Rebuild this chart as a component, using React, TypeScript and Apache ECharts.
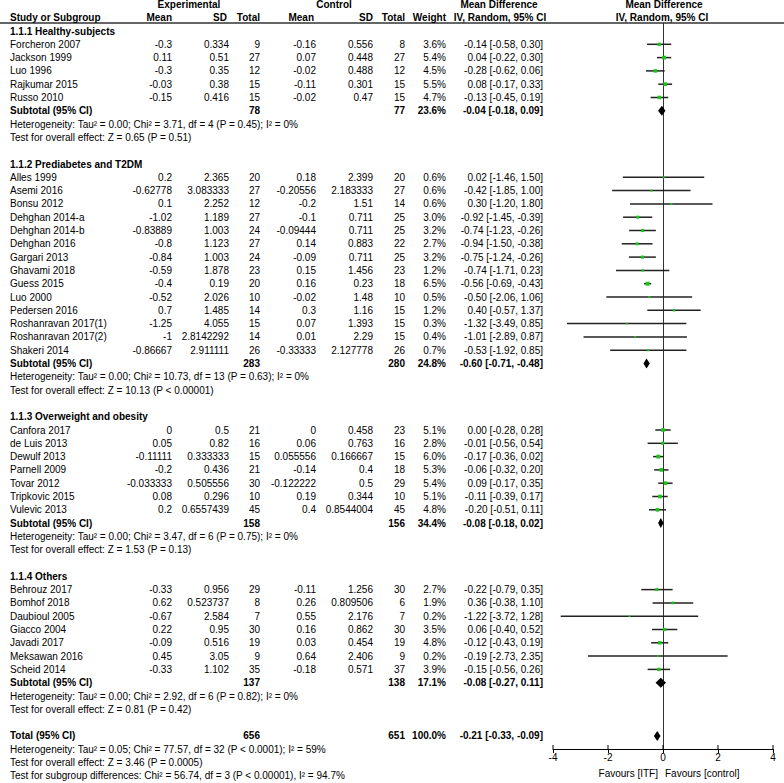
import React, { useEffect, useRef } from "react";
import * as echarts from "echarts";

// ---------------- data ----------------
const subgroupTitles = [
  "1.1.1 Healthy-subjects",
  "1.1.2 Prediabetes and T2DM",
  "1.1.3 Overweight and obesity",
  "1.1.4 Others",
];
const subgroupSizes = [5, 14, 7, 7];

const studyNames = [
  "Forcheron 2007", "Jackson 1999", "Luo 1996", "Rajkumar 2015", "Russo 2010",
  "Alles 1999", "Asemi 2016", "Bonsu 2012", "Dehghan 2014-a", "Dehghan 2014-b", "Dehghan 2016",
  "Gargari 2013", "Ghavami 2018", "Guess 2015", "Luo 2000", "Pedersen 2016",
  "Roshanravan 2017(1)", "Roshanravan 2017(2)", "Shakeri 2014",
  "Canfora 2017", "de Luis 2013", "Dewulf 2013", "Parnell 2009", "Tovar 2012", "Tripkovic 2015", "Vulevic 2013",
  "Behrouz 2017", "Bomhof 2018", "Daubioul 2005", "Giacco 2004", "Javadi 2017", "Meksawan 2016", "Scheid 2014",
];
const expMean = [
  -0.3, 0.11, -0.3, -0.03, -0.15,
  0.2, -0.62778, 0.1, -1.02, -0.83889, -0.8, -0.84, -0.59, -0.4, -0.52, 0.7, -1.25, -1, -0.86667,
  0, 0.05, -0.11111, -0.2, -0.033333, 0.08, 0.2,
  -0.33, 0.62, -0.67, 0.22, -0.09, 0.45, -0.33,
];
const expSD = [
  0.334, 0.51, 0.35, 0.38, 0.416,
  2.365, 3.083333, 2.252, 1.189, 1.003, 1.123, 1.003, 1.878, 0.19, 2.026, 1.485, 4.055, 2.8142292, 2.911111,
  0.5, 0.82, 0.333333, 0.436, 0.505556, 0.296, 0.6557439,
  0.956, 0.523737, 2.584, 0.95, 0.516, 3.05, 1.102,
];
const expTotal = [
  9, 27, 12, 15, 15,
  20, 27, 12, 27, 24, 27, 24, 23, 20, 10, 14, 15, 14, 26,
  21, 16, 15, 21, 30, 10, 45,
  29, 8, 7, 30, 19, 9, 35,
];
const ctlMean = [
  -0.16, 0.07, -0.02, -0.11, -0.02,
  0.18, -0.20556, -0.2, -0.1, -0.09444, 0.14, -0.09, 0.15, 0.16, -0.02, 0.3, 0.07, 0.01, -0.33333,
  0, 0.06, 0.055556, -0.14, -0.122222, 0.19, 0.4,
  -0.11, 0.26, 0.55, 0.16, 0.03, 0.64, -0.18,
];
const ctlSD = [
  0.556, 0.448, 0.488, 0.301, 0.47,
  2.399, 2.183333, 1.51, 0.711, 0.711, 0.883, 0.711, 1.456, 0.23, 1.48, 1.16, 1.393, 2.29, 2.127778,
  0.458, 0.763, 0.166667, 0.4, 0.5, 0.344, 0.8544004,
  1.256, 0.809506, 2.176, 0.862, 0.454, 2.406, 0.571,
];
const ctlTotal = [
  8, 27, 12, 15, 15,
  20, 27, 14, 25, 25, 22, 25, 23, 18, 10, 15, 15, 15, 26,
  23, 16, 15, 18, 29, 10, 45,
  30, 6, 7, 30, 19, 9, 37,
];
const weights = [
  3.6, 5.4, 4.5, 5.5, 4.7,
  0.6, 0.6, 0.6, 3.0, 3.2, 2.7, 3.2, 1.2, 6.5, 0.5, 1.2, 0.3, 0.4, 0.7,
  5.1, 2.8, 6.0, 5.3, 5.4, 5.1, 4.8,
  2.7, 1.9, 0.2, 3.5, 4.8, 0.2, 3.9,
];
const meanDiff = [
  -0.14, 0.04, -0.28, 0.08, -0.13,
  0.02, -0.42, 0.3, -0.92, -0.74, -0.94, -0.75, -0.74, -0.56, -0.5, 0.4, -1.32, -1.01, -0.53,
  0.0, -0.01, -0.17, -0.06, 0.09, -0.11, -0.2,
  -0.22, 0.36, -1.22, 0.06, -0.12, -0.19, -0.15,
];
const ciLow = [
  -0.58, -0.22, -0.62, -0.17, -0.45,
  -1.46, -1.85, -1.2, -1.45, -1.23, -1.5, -1.24, -1.71, -0.69, -2.06, -0.57, -3.49, -2.89, -1.92,
  -0.28, -0.56, -0.36, -0.32, -0.17, -0.39, -0.51,
  -0.79, -0.38, -3.72, -0.4, -0.43, -2.73, -0.56,
];
const ciHigh = [
  0.3, 0.3, 0.06, 0.33, 0.19,
  1.5, 1.0, 1.8, -0.39, -0.26, -0.38, -0.26, 0.23, -0.43, 1.06, 1.37, 0.85, 0.87, 0.85,
  0.28, 0.54, 0.02, 0.2, 0.35, 0.17, 0.11,
  0.35, 1.1, 1.28, 0.52, 0.19, 2.35, 0.26,
];

const subExpTotal = [78, 283, 158, 137];
const subCtlTotal = [77, 280, 156, 138];
const subWeight = [23.6, 24.8, 34.4, 17.1];
const subMeanDiff = [-0.04, -0.6, -0.08, -0.08];
const subLow = [-0.18, -0.71, -0.18, -0.27];
const subHigh = [0.09, -0.48, 0.02, 0.11];
const subHeterogeneity = [
  "Heterogeneity: Tau² = 0.00; Chi² = 3.71, df = 4 (P = 0.45); I² = 0%",
  "Heterogeneity: Tau² = 0.00; Chi² = 10.73, df = 13 (P = 0.63); I² = 0%",
  "Heterogeneity: Tau² = 0.00; Chi² = 3.47, df = 6 (P = 0.75); I² = 0%",
  "Heterogeneity: Tau² = 0.00; Chi² = 2.92, df = 6 (P = 0.82); I² = 0%",
];
const subOverallTest = [
  "Test for overall effect: Z = 0.65 (P = 0.51)",
  "Test for overall effect: Z = 10.13 (P < 0.00001)",
  "Test for overall effect: Z = 1.53 (P = 0.13)",
  "Test for overall effect: Z = 0.81 (P = 0.42)",
];

const totalExp = 656;
const totalCtl = 651;
const totalWeight = 100.0;
const totalMeanDiff = -0.21;
const totalLow = -0.33;
const totalHigh = -0.09;
const totalNotes = [
  "Heterogeneity: Tau² = 0.05; Chi² = 77.57, df = 32 (P < 0.0001); I² = 59%",
  "Test for overall effect: Z = 3.46 (P = 0.0005)",
  "Test for subgroup differences: Chi² = 56.74, df = 3 (P < 0.00001), I² = 94.7%",
];

const xTicks = [-4, -2, 0, 2, 4];
const favoursLeft = "Favours [ITF]";
const favoursRight = "Favours [control]";

// ---------------- layout ----------------
const W = 784;
const H = 783;
const ROW_H = 13.3;
const FIRST_ROW_Y = 31;
const GRID_TOP = 23;
const AXIS_Y = 749;
const Y_MIN = (GRID_TOP - FIRST_ROW_Y) / ROW_H;
const Y_MAX = (AXIS_Y - FIRST_ROW_Y) / ROW_H;

const COL = {
  name: 10,
  expMean: 172,
  expSD: 229,
  expTotal: 260,
  ctlMean: 316,
  ctlSD: 373,
  ctlTotal: 405,
  weight: 446,
  ci: 543,
};

type Align = "left" | "right" | "center";
interface Cell { t: string; x: number; a: Align; b?: boolean }
interface TRow { i: number; cells: Cell[] }

const fmtCI = (m: number, l: number, h: number) =>
  `${m.toFixed(2)} [${l.toFixed(2)}, ${h.toFixed(2)}]`;

const tableRows: TRow[] = [];
const studyData: number[][] = [];
const diamondData: number[][] = [];

tableRows.push({
  i: -2,
  cells: [
    { t: "Experimental", x: 189, a: "center", b: true },
    { t: "Control", x: 334, a: "center", b: true },
    { t: "Mean Difference", x: 499, a: "center", b: true },
    { t: "Mean Difference", x: 664, a: "center", b: true },
  ],
});
tableRows.push({
  i: -1,
  cells: [
    { t: "Study or Subgroup", x: COL.name, a: "left", b: true },
    { t: "Mean", x: COL.expMean, a: "right", b: true },
    { t: "SD", x: 227, a: "right", b: true },
    { t: "Total", x: COL.expTotal, a: "right", b: true },
    { t: "Mean", x: 314, a: "right", b: true },
    { t: "SD", x: COL.ctlSD, a: "right", b: true },
    { t: "Total", x: COL.ctlTotal, a: "right", b: true },
    { t: "Weight", x: COL.weight, a: "right", b: true },
    { t: "IV, Random, 95% CI", x: 500, a: "center", b: true },
    { t: "IV, Random, 95% CI", x: 662, a: "center", b: true },
  ],
});

let row = 0;
let s = 0;
subgroupTitles.forEach((title, g) => {
  tableRows.push({ i: row, cells: [{ t: title, x: COL.name, a: "left", b: true }] });
  row++;
  for (let k = 0; k < subgroupSizes[g]; k++) {
    tableRows.push({
      i: row,
      cells: [
        { t: studyNames[s], x: COL.name, a: "left" },
        { t: String(expMean[s]), x: COL.expMean, a: "right" },
        { t: String(expSD[s]), x: COL.expSD, a: "right" },
        { t: String(expTotal[s]), x: COL.expTotal, a: "right" },
        { t: String(ctlMean[s]), x: COL.ctlMean, a: "right" },
        { t: String(ctlSD[s]), x: COL.ctlSD, a: "right" },
        { t: String(ctlTotal[s]), x: COL.ctlTotal, a: "right" },
        { t: `${weights[s].toFixed(1)}%`, x: COL.weight, a: "right" },
        { t: fmtCI(meanDiff[s], ciLow[s], ciHigh[s]), x: COL.ci, a: "right" },
      ],
    });
    studyData.push([meanDiff[s], row, ciLow[s], ciHigh[s], weights[s]]);
    s++;
    row++;
  }
  tableRows.push({
    i: row,
    cells: [
      { t: "Subtotal (95% CI)", x: COL.name, a: "left", b: true },
      { t: String(subExpTotal[g]), x: COL.expTotal, a: "right", b: true },
      { t: String(subCtlTotal[g]), x: COL.ctlTotal, a: "right", b: true },
      { t: `${subWeight[g].toFixed(1)}%`, x: COL.weight, a: "right", b: true },
      { t: fmtCI(subMeanDiff[g], subLow[g], subHigh[g]), x: COL.ci, a: "right", b: true },
    ],
  });
  diamondData.push([subMeanDiff[g], row, subLow[g], subHigh[g]]);
  row++;
  tableRows.push({ i: row, cells: [{ t: subHeterogeneity[g], x: COL.name, a: "left" }] });
  row++;
  tableRows.push({ i: row, cells: [{ t: subOverallTest[g], x: COL.name, a: "left" }] });
  row++;
  row++; // blank
});
tableRows.push({
  i: row,
  cells: [
    { t: "Total (95% CI)", x: COL.name, a: "left", b: true },
    { t: String(totalExp), x: COL.expTotal, a: "right", b: true },
    { t: String(totalCtl), x: COL.ctlTotal, a: "right", b: true },
    { t: `${totalWeight.toFixed(1)}%`, x: COL.weight, a: "right", b: true },
    { t: fmtCI(totalMeanDiff, totalLow, totalHigh), x: COL.ci, a: "right", b: true },
  ],
});
diamondData.push([totalMeanDiff, row, totalLow, totalHigh]);
row++;
totalNotes.forEach((n) => {
  tableRows.push({ i: row, cells: [{ t: n, x: COL.name, a: "left" }] });
  row++;
});

const FONT = "'Liberation Sans', Arial, sans-serif";
const font = (b?: boolean) => `${b ? "bold " : ""}10px ${FONT}`;
const TEXT = "#000000";

export default function App() {
  const ref = useRef<HTMLDivElement>(null);
  useEffect(() => {
    document.body.style.margin = "0";
    if (!ref.current) return;
    const chart = echarts.init(ref.current, undefined, { renderer: "svg" });
    chart.setOption({
      animation: false,
      backgroundColor: "#ffffff",
      grid: { left: 553, right: W - 773, top: GRID_TOP, bottom: H - AXIS_Y, containLabel: false },
      xAxis: {
        type: "value",
        min: -4,
        max: 4,
        interval: 2,
        axisLine: { show: true, onZero: false, lineStyle: { color: "#000", width: 1 } },
        axisTick: { show: true, length: 4, lineStyle: { color: "#000", width: 1 } },
        axisLabel: { margin: 3, fontSize: 10, fontFamily: FONT, color: TEXT },
        splitLine: { show: false },
      },
      yAxis: {
        type: "value",
        inverse: true,
        min: Y_MIN,
        max: Y_MAX,
        axisLine: { show: true, onZero: true, lineStyle: { color: "#333", width: 1 } },
        axisTick: { show: false },
        axisLabel: { show: false },
        splitLine: { show: false },
      },
      graphic: [
        {
          type: "line",
          shape: { x1: 0, y1: GRID_TOP, x2: W, y2: GRID_TOP },
          style: { stroke: "#333", lineWidth: 1.3 },
          silent: true,
        },
      ],
      series: [
        {
          type: "custom",
          name: "table",
          silent: true,
          clip: false,
          data: tableRows.map((r) => [0, r.i]),
          renderItem: (params: any, api: any) => {
            const r = tableRows[params.dataIndex];
            const y = api.coord([0, r.i])[1];
            return {
              type: "group",
              children: r.cells.map((c) => ({
                type: "text",
                x: c.x,
                y,
                style: {
                  text: c.t,
                  fill: TEXT,
                  font: font(c.b),
                  textAlign: c.a,
                  textVerticalAlign: "middle",
                },
              })),
            };
          },
        },
        {
          type: "custom",
          name: "studies",
          silent: true,
          clip: false,
          data: studyData,
          renderItem: (params: any, api: any) => {
            const md = api.value(0);
            const i = api.value(1);
            const lo = api.value(2);
            const hi = api.value(3);
            const w = api.value(4);
            const a = api.coord([lo, i]);
            const b = api.coord([hi, i]);
            const c = api.coord([md, i]);
            const sz = 1.2 + Math.sqrt(w) * 1.1;
            return {
              type: "group",
              children: [
                {
                  type: "line",
                  shape: { x1: a[0], y1: a[1], x2: b[0], y2: b[1] },
                  style: { stroke: "#222", lineWidth: 1.5 },
                },
                {
                  type: "rect",
                  shape: { x: c[0] - sz / 2, y: c[1] - sz / 2, width: sz, height: sz },
                  style: { fill: "#1ec41e" },
                },
              ],
            };
          },
        },
        {
          type: "custom",
          name: "diamonds",
          silent: true,
          clip: false,
          data: diamondData,
          renderItem: (params: any, api: any) => {
            const md = api.value(0);
            const i = api.value(1);
            const lo = api.coord([api.value(2), i]);
            const hi = api.coord([api.value(3), i]);
            const c = api.coord([md, i]);
            return {
              type: "polygon",
              shape: {
                points: [
                  [lo[0], c[1]],
                  [c[0], c[1] - 5],
                  [hi[0], c[1]],
                  [c[0], c[1] + 5],
                ],
              },
              style: { fill: "#000" },
            };
          },
        },
        {
          type: "custom",
          name: "ticksUp",
          silent: true,
          clip: false,
          data: xTicks.map((v) => [v, Y_MAX]),
          renderItem: (params: any, api: any) => {
            const p = api.coord([api.value(0), api.value(1)]);
            return {
              type: "line",
              shape: { x1: p[0], y1: p[1], x2: p[0], y2: p[1] - 4 },
              style: { stroke: "#000", lineWidth: 1 },
            };
          },
        },
        {
          type: "custom",
          name: "favours",
          silent: true,
          clip: false,
          data: [[0, Y_MAX]],
          renderItem: (params: any, api: any) => {
            const p = api.coord([api.value(0), api.value(1)]);
            return {
              type: "group",
              children: [
                {
                  type: "text",
                  x: p[0] - 5,
                  y: p[1] + 24,
                  style: { text: favoursLeft, fill: TEXT, font: font(false), textAlign: "right", textVerticalAlign: "middle" },
                },
                {
                  type: "text",
                  x: p[0] + 2,
                  y: p[1] + 24,
                  style: { text: favoursRight, fill: TEXT, font: font(false), textAlign: "left", textVerticalAlign: "middle" },
                },
              ],
            };
          },
        },
      ],
    });
    return () => chart.dispose();
  }, []);
  return <div ref={ref} style={{ width: W, height: H }} />;
}
